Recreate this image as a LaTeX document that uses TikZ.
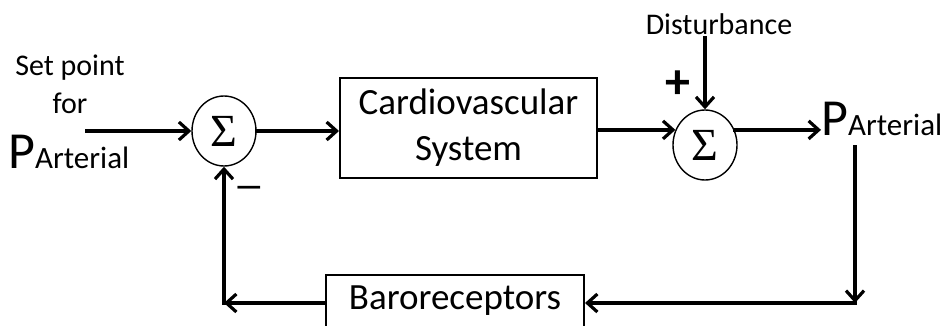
\documentclass[tikz,border=0pt]{standalone}
\usepackage{fontspec}
\setmainfont{Carlito}
\newfontfamily\sigmafont{Liberation Serif}
\usetikzlibrary{arrows.meta,shapes.geometric}

\tikzset{
  sumnode/.style={draw, ellipse, line width=1.4pt, inner sep=0pt,
    minimum width=64pt, minimum height=70pt, font=\sigmafont\fontsize{46}{46}\selectfont},
  blockbox/.style={draw, line width=2pt, font=\fontsize{37}{46}\selectfont},
  sig/.style={line width=3.2pt, line cap=rect, -{Straight Barb[length=10pt,width=18pt]}},
}

\begin{document}
\begin{tikzpicture}[x=1pt, y=-1pt]
\useasboundingbox (0,0) rectangle (949,326);

% Blocks
\node[sumnode] (sum1) at (224,131) {Σ};
\node[sumnode] (sum2) at (705,145) {Σ};
\node[blockbox, align=center, minimum width=257pt, minimum height=100pt] (cvs) at (468.5,128) {Cardiovascular\\System};
\node[blockbox, minimum width=258pt, minimum height=56pt, text height=27pt, text depth=15pt] (baro) at (455,303) {Baroreceptors};

% Labels
\node[align=center, font=\fontsize{30}{38}\selectfont] (setpt) at (70,84) {Set point\\for};
\node[anchor=base west, inner sep=0pt] (pin) at (8,168) {\fontsize{52}{52}\selectfont P\fontsize{31}{31}\selectfont Arterial};
\node[anchor=base west, inner sep=0pt] (pout) at (821,135) {\fontsize{52}{52}\selectfont P\fontsize{31}{31}\selectfont Arterial};
\node[font=\fontsize{30}{30}\selectfont] (dist) at (719,24) {Disturbance};
\node[font=\fontsize{50}{50}\selectfont\bfseries] (plus) at (678,85) {+};
\node[font=\fontsize{31}{31}\selectfont\bfseries] (minus) at (249,191) {—};

% Signals
\coordinate (in) at (87,131);
\draw[sig] (in) -- (sum1.west);
\draw[sig] (sum1.east) -- (sum1.east -| cvs.west);
\draw[sig] (cvs.east |- sum2.153) -- (sum2.153);
\draw[sig] (sum2.27) -- (sum2.27 -| pout.west);
\draw[sig] (dist.south -| sum2.north) -- (sum2.north);

% Feedback
\coordinate (tap) at (855,147);
\coordinate (fbr) at (855,303);
\coordinate (fbl) at (sum1.south |- baro.west);
\draw[sig] (tap) -- (fbr);
\draw[sig] (fbr) -- (baro.east);
\draw[sig] (baro.west) -- (fbl);
\draw[sig] (fbl) -- (sum1.south);

\end{tikzpicture}
\end{document}
